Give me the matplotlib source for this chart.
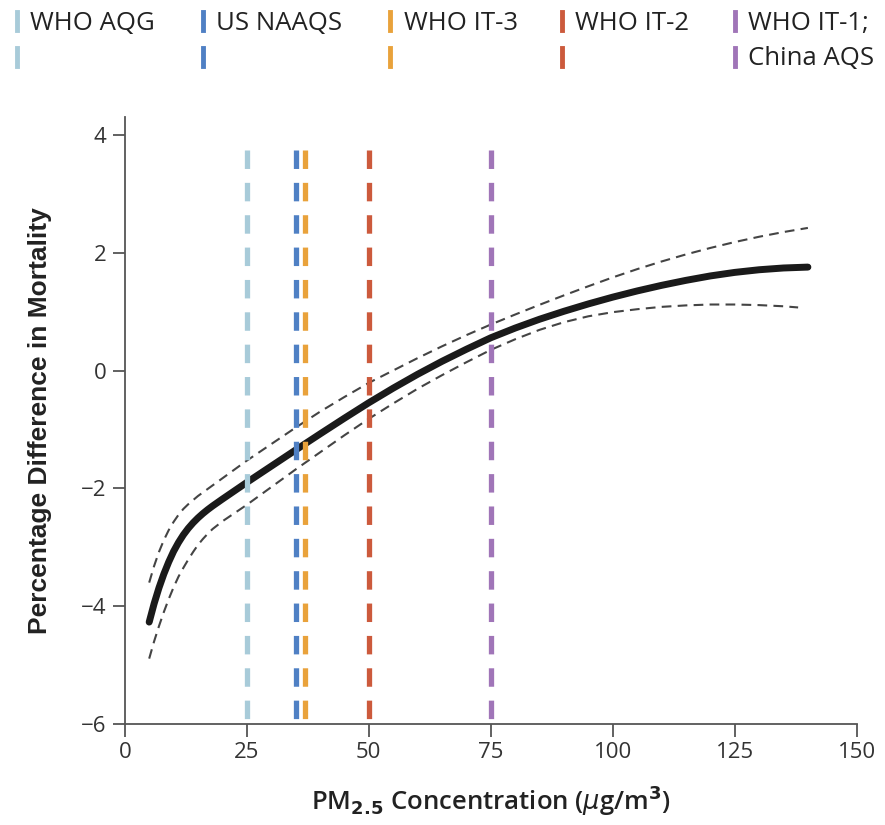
import matplotlib.pyplot as plt
from matplotlib.lines import Line2D

plt.rcParams['lines.scale_dashes'] = False

# exposure-response curve
pm = [5, 6, 7, 8, 9, 10, 11, 12, 13, 14, 15, 16, 17, 18, 20, 25, 30, 35, 40,
      45, 50, 55, 60, 65, 70, 75, 80, 85, 90, 95, 100, 105, 110, 115, 120,
      125, 130, 135, 140]
mort = [-4.27, -3.96, -3.69, -3.455, -3.25, -3.07, -2.92, -2.79, -2.68, -2.585,
        -2.502, -2.428, -2.361, -2.299, -2.183, -1.9, -1.625, -1.35, -1.078,
        -0.81, -0.548, -0.3, -0.065, 0.155, 0.36, 0.555, 0.72, 0.87, 1.005,
        1.13, 1.245, 1.35, 1.445, 1.53, 1.605, 1.665, 1.71, 1.74, 1.755]

pm_up = [5, 6, 7, 8, 9, 10, 11, 12, 13, 14, 15, 16, 17, 18, 20, 25, 30, 35,
         40, 45, 50, 55, 60, 65, 70, 75, 80, 85, 90, 95, 100, 105, 110, 115,
         120, 125, 130, 135, 140]
upper = [-3.6, -3.32, -3.08, -2.88, -2.71, -2.57, -2.45, -2.35, -2.27, -2.2,
         -2.13, -2.07, -2.01, -1.95, -1.83, -1.53, -1.25, -0.97, -0.7, -0.45,
         -0.21, 0.0, 0.21, 0.41, 0.6, 0.78, 0.95, 1.115, 1.275, 1.43, 1.58,
         1.72, 1.85, 1.97, 2.08, 2.18, 2.27, 2.35, 2.42]

pm_lo = [5, 6, 7, 8, 9, 10, 11, 12, 13, 14, 15, 16, 17, 18, 20, 22.5, 25, 30,
         35, 40, 45, 50, 55, 60, 65, 70, 75, 80, 85, 90, 95, 100, 105, 110,
         115, 120, 125, 130, 135, 138]
lower = [-4.89, -4.6, -4.34, -4.1, -3.88, -3.68, -3.5, -3.35, -3.21, -3.08,
         -2.96, -2.86, -2.77, -2.69, -2.56, -2.42, -2.28, -1.98, -1.68, -1.39,
         -1.1, -0.82, -0.56, -0.31, -0.08, 0.14, 0.35, 0.53, 0.69, 0.82, 0.92,
         0.99, 1.04, 1.08, 1.105, 1.12, 1.12, 1.11, 1.09, 1.07]

# air quality standards
std_names = ['WHO AQG', 'US NAAQS', 'WHO IT-3', 'WHO IT-2', 'WHO IT-1;']
std_values = [25, 35, 37, 50, 75]
std_colors = ['#a8cbd9', '#4f80c4', '#e9a23b', '#cc5a3c', '#a075b8']

fig = plt.figure(figsize=(8.85, 8.25), dpi=100)
ax = fig.add_axes([0.141, 0.1224, 0.827, 0.7356])

ax.plot(pm, mort, color='#1a1a1a', lw=5, solid_capstyle='round', zorder=3)
ax.plot(pm_up, upper, color='#444444', lw=1.5, dashes=(7, 4.5), zorder=3)
ax.plot(pm_lo, lower, color='#444444', lw=1.5, dashes=(7, 4.5), zorder=3)

for v, c in zip(std_values, std_colors):
    ax.plot([v, v], [3.75, -6], color=c, lw=3.8, dashes=(13.3, 10), zorder=4)

ax.set_xlim(0, 150)
ax.set_ylim(-6, 4.3)
ax.set_xticks([0, 25, 50, 75, 100, 125, 150])
ax.set_yticks([-6, -4, -2, 0, 2, 4])
ax.set_yticklabels(['\u22126', '\u22124', '\u22122', '0', '2', '4'])
ax.spines['top'].set_visible(False)
ax.spines['right'].set_visible(False)
for s in ['left', 'bottom']:
    ax.spines[s].set_color('#555555')
    ax.spines[s].set_linewidth(1.3)
ax.tick_params(length=9, width=1.3, color='#555555', labelsize=16,
               labelcolor='#333333', pad=4)
for lab in ax.get_xticklabels() + ax.get_yticklabels():
    lab.set_family('Open Sans')

ax.set_ylabel('Percentage Difference in Mortality', fontsize=19, fontweight='bold',
              family='Liberation Sans', color='#222222', labelpad=21)
ax.set_xlabel('PM$_{\\mathbf{2.5}}$ Concentration ($\\mu$g/m$^\\mathbf{3}$)', fontsize=18.5,
              fontweight='semibold', family='Open Sans', color='#222222', labelpad=15)

# legend across the top
leg_x = [0.019, 0.229, 0.441, 0.635, 0.830]
for x, name, c in zip(leg_x, std_names, std_colors):
    fig.add_artist(Line2D([x, x], [0.964, 0.986], color=c, lw=3.5))
    fig.add_artist(Line2D([x, x], [0.920, 0.942], color=c, lw=3.5))
    fig.text(x + 0.015, 0.972, name, fontsize=18.5, family='Open Sans',
             color='#222222', va='center')
fig.text(leg_x[-1] + 0.015, 0.929, 'China AQS', fontsize=18.5, family='Open Sans',
         color='#222222', va='center')

fig.savefig('out.png', dpi=100)
